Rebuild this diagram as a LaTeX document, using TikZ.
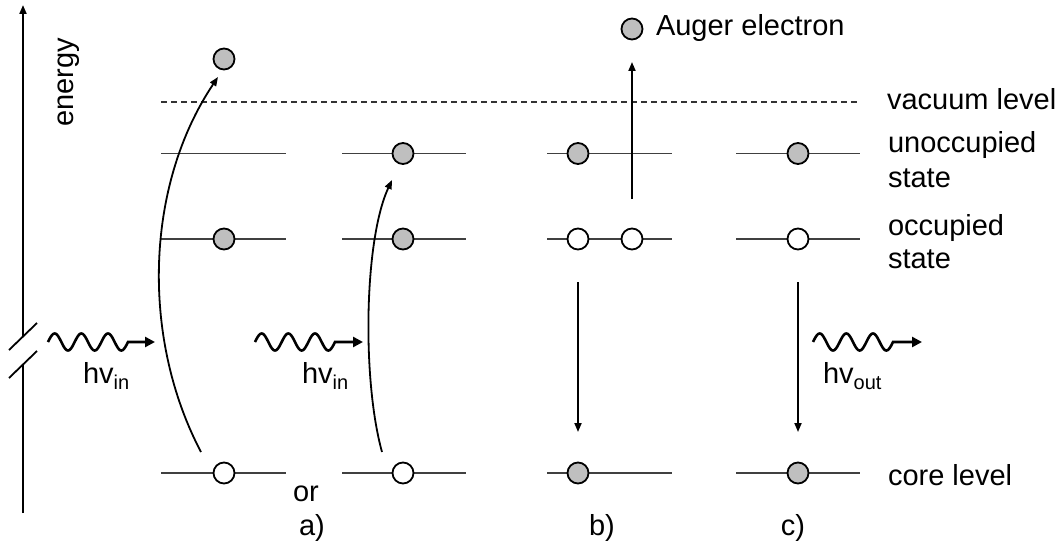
\documentclass[tikz,border=0pt]{standalone}
\usepackage{fontspec}
\setmainfont{Liberation Sans}
\usetikzlibrary{arrows.meta}
\begin{document}
\begin{tikzpicture}[x=1pt,y=-1pt,
  every node/.style={inner sep=0pt, outer sep=0pt},
  lbl/.style={font=\fontsize{29}{34}\selectfont, anchor=base west},
  clbl/.style={font=\fontsize{29}{34}\selectfont, anchor=base},
  levelline/.style={draw=black!75, line width=1.6pt},
  vacline/.style={draw=black!80, line width=1.5pt, dash pattern=on 6pt off 4pt},
  elec/.style={circle, draw=black, line width=1.8pt, fill=black!25, minimum size=21pt},
  hole/.style={circle, draw=black, line width=1.8pt, fill=white, minimum size=21pt},
  trans/.style={line width=1.8pt, -{Triangle[length=9pt,width=7pt]}},
  photon/.style={line width=2.6pt, -{Triangle[length=10pt,width=10pt]}},
  axisline/.style={line width=2pt},
]
\useasboundingbox (0,0) rectangle (1064,548);

% energy axis with break
\coordinate (axbot) at (23,513);
\coordinate (axlow) at (23,365);
\coordinate (axhigh) at (23,336.7);
\coordinate (axtop) at (23,5);
\draw[axisline, -{Triangle[length=9pt,width=7pt]}] (axhigh) -- (axtop);
\draw[axisline] (axbot) -- (axlow);
\coordinate (s1a) at (9,350); \coordinate (s1b) at (37,323);
\coordinate (s2a) at (9,378); \coordinate (s2b) at (37,351);
\draw[line width=1.8pt] (s1a) -- (s1b);
\draw[line width=1.8pt] (s2a) -- (s2b);
\node[font=\fontsize{29}{34}\selectfont, rotate=90, anchor=base west] (energy) at (73.5,127) {energy};

% vacuum level
\coordinate (vacL) at (161,102); \coordinate (vacR) at (860,102);
\draw[vacline] (vacL) -- (vacR);

% level lines
\foreach \xl/\xr/\n in {161/286/a, 342/466/b, 547/672/c, 736/860/d}{
  \coordinate (u\n L) at (\xl,153.5); \coordinate (u\n R) at (\xr,153.5);
  \coordinate (o\n L) at (\xl,239); \coordinate (o\n R) at (\xr,239);
  \coordinate (k\n L) at (\xl,473); \coordinate (k\n R) at (\xr,473);
  \draw[levelline] (u\n L) -- (u\n R);
  \draw[levelline] (o\n L) -- (o\n R);
  \draw[levelline] (k\n L) -- (k\n R);
}

% column a (first)
\node[elec] (aFree) at (224,59) {};
\node[elec] (aOcc) at (224,239) {};
\node[hole] (aCore) at (224,473) {};
% column a (second)
\node[elec] (bUnocc) at (403,153.5) {};
\node[elec] (bOcc) at (403,239) {};
\node[hole] (bCore) at (403,473) {};
% column b
\node[elec] (cUnocc) at (578,153.5) {};
\node[hole] (cOcc1) at (578,239) {};
\node[hole] (cOcc2) at (632,239) {};
\node[elec] (cCore) at (578,473) {};
\node[elec] (cAuger) at (632,29) {};
% column c
\node[elec] (dUnocc) at (798,153.5) {};
\node[hole] (dOcc) at (798,239) {};
\node[elec] (dCore) at (798,473) {};

% transitions
\coordinate (a1s) at (201,452); \coordinate (a1e) at (218,77);
\draw[trans] (a1s) .. controls (141,338) and (145,186) .. (a1e);
\coordinate (a2s) at (382,452); \coordinate (a2e) at (392,180);
\draw[trans] (a2s) .. controls (362,380) and (364,240) .. (a2e);
\coordinate (bds) at (578,282); \coordinate (bde) at (578,432);
\draw[trans] (bds) -- (bde);
\coordinate (bus) at (632,199); \coordinate (bue) at (632,62);
\draw[trans] (bus) -- (bue);
\coordinate (cds) at (798,282); \coordinate (cde) at (798,432);
\draw[trans] (cds) -- (cde);

% photons
\coordinate (p1e) at (155,342);
\draw[photon] plot[domain=0:80, samples=121, smooth] ({48+\x},{342-8.5*sin(\x*13.5)}) -- (p1e);
\coordinate (p2e) at (363,342);
\draw[photon] plot[domain=0:80, samples=121, smooth] ({255+\x},{342-8.5*sin(\x*13.5)}) -- (p2e);
\coordinate (p3e) at (922,342);
\draw[photon] plot[domain=0:80, samples=121, smooth] ({813+\x},{342-8.5*sin(\x*13.5)}) -- (p3e);

\node[lbl] (hv1) at (83,383) {hv\raisebox{-6.5pt}{\fontsize{20}{20}\selectfont in}};
\node[lbl] (hv2) at (302,383) {hv\raisebox{-6.5pt}{\fontsize{20}{20}\selectfont in}};
\node[lbl] (hv3) at (823,383) {hv\raisebox{-6.5pt}{\fontsize{20}{20}\selectfont out}};

% labels
\node[lbl] (auger) at (656,36) {Auger electron};
\node[lbl] (vac) at (887,110) {vacuum level};
\node[lbl] (unocc1) at (888,153) {unoccupied};
\node[lbl] (unocc2) at (888,187) {state};
\node[lbl] (occ1) at (888,235) {occupied};
\node[lbl] (occ2) at (888,268) {state};
\node[lbl] (core) at (888,485) {core level};
\node[clbl] (or) at (306,501) {or};
\node[clbl] (la) at (312,535) {a)};
\node[clbl] (lb) at (602,535) {b)};
\node[clbl] (lc) at (793,535) {c)};
\end{tikzpicture}
\end{document}
